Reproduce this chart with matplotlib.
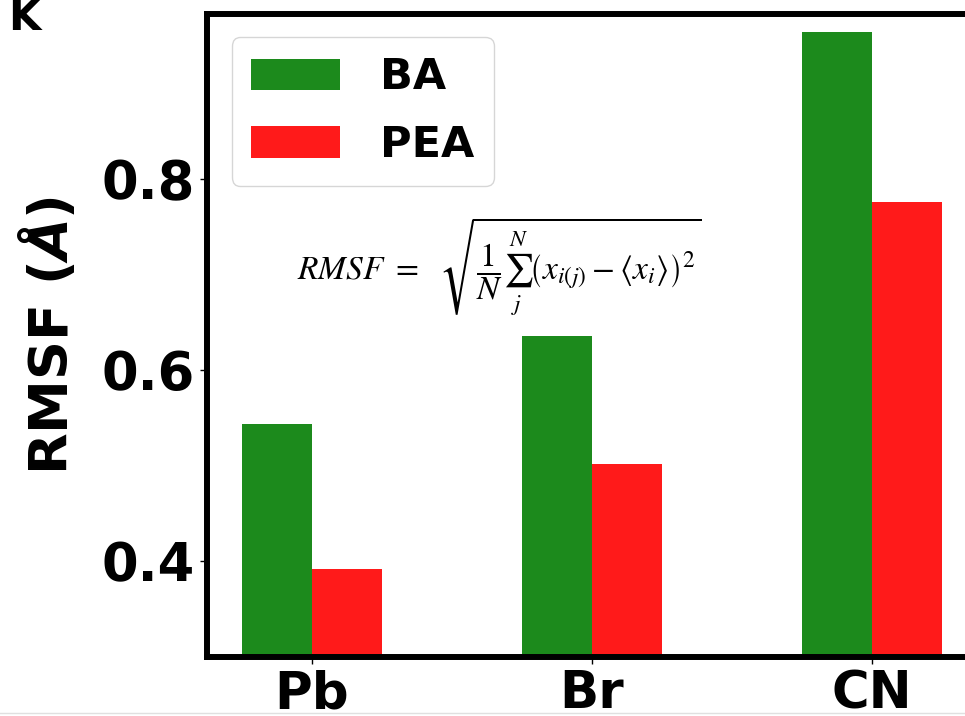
import numpy as np
import matplotlib
matplotlib.use("Agg")
import matplotlib.pyplot as plt
from matplotlib.lines import Line2D

sites = ["Pb", "Br", "CN"]
rmsf_ba = [0.543, 0.635, 0.954]
rmsf_pea = [0.392, 0.502, 0.776]

fig = plt.figure(figsize=(9.65, 7.16), dpi=100)
ax = fig.add_axes([0.2145, 0.0831, 0.798, 0.8967])

x = np.arange(len(sites))
w = 0.25
ax.bar(x - w / 2, rmsf_ba, w, color="#1c8a1c", label="BA")
ax.bar(x + w / 2, rmsf_pea, w, color="#ff1a1a", label="PEA")

ax.set_ylim(0.3, 0.972)
ax.set_xticks(x)
ax.set_xticklabels(sites, fontsize=37, fontweight="bold")
ax.set_yticks([0.4, 0.6, 0.8])
ax.set_yticklabels(["0.4", "0.6", "0.8"], fontsize=38, fontweight="bold")
ax.tick_params(length=5, width=1, pad=4)
ylab = ax.set_ylabel(r"RMSF ($\mathbfit{Å}$)", fontsize=39, fontweight="bold", labelpad=16)
ylab.set_math_fontfamily("dejavusans")

for s in ax.spines.values():
    s.set_linewidth(4.3)
ax.spines["right"].set_visible(False)

ax.legend(loc="upper left", prop={"weight": "bold", "size": 31},
          handlelength=2.07, handleheight=0.75, borderpad=0.45, labelspacing=0.6,
          handletextpad=0.93, borderaxespad=0, bbox_to_anchor=(0.032, 0.965))

formula = ax.text(0.117, 0.607,
                  r"$RMSF\ =\ \ \sqrt{\dfrac{1}{N}\sum_{j}^{N}\left(x_{i(j)}-\langle x_i\rangle\right)^2}$",
                  transform=ax.transAxes, fontsize=24, ha="left", va="center")
formula.set_math_fontfamily("stix")

fig.text(0.008, 0.975, "K", fontsize=30, fontweight="bold", ha="left", va="center")
fig.add_artist(Line2D([0, 1], [0.004, 0.004], transform=fig.transFigure,
                      color="#e0e0e0", lw=1))

fig.savefig("out.png", dpi=100)
